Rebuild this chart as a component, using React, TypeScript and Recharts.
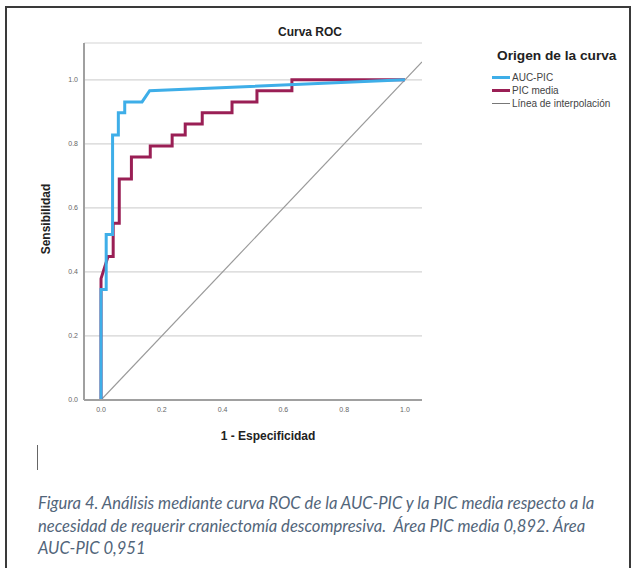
import React from "react";
import { LineChart, Line, XAxis, YAxis, CartesianGrid } from "recharts";

const ticks = [0, 0.2, 0.4, 0.6, 0.8, 1.0];

const aucPicFpr = [0, 0, 0.017, 0.017, 0.038, 0.038, 0.057, 0.057, 0.078, 0.078, 0.135, 0.16, 1.0];
const aucPicTpr = [0, 0.345, 0.345, 0.517, 0.517, 0.828, 0.828, 0.897, 0.897, 0.931, 0.931, 0.966, 1.0];

const picMediaFpr = [0, 0, 0.023, 0.04, 0.04, 0.06, 0.06, 0.1, 0.1, 0.162, 0.162, 0.234, 0.234, 0.277, 0.277, 0.333, 0.333, 0.431, 0.431, 0.513, 0.513, 0.628, 0.628, 1.0];
const picMediaTpr = [0, 0.379, 0.448, 0.448, 0.552, 0.552, 0.69, 0.69, 0.759, 0.759, 0.793, 0.793, 0.828, 0.828, 0.862, 0.862, 0.897, 0.897, 0.931, 0.931, 0.966, 0.966, 1.0, 1.0];

const refLine = [0, 1.056];

const legendItems = ["AUC-PIC", "PIC media", "Línea de interpolación"];
const captionLines = [
  "Figura 4. Análisis mediante curva ROC de la AUC-PIC y la PIC media respecto a la",
  "necesidad de requerir craniectomía descompresiva.  Área PIC media 0,892. Área",
  "AUC-PIC 0,951",
];

const toPts = (xs: number[], ys: number[]) => xs.map((x, i) => ({ x, y: ys[i] }));

const blueData = toPts(aucPicFpr, aucPicTpr);
const redData = toPts(picMediaFpr, picMediaTpr);
const diagData = refLine.map((v) => ({ x: v, y: v }));

const BLUE = "#3eaee8";
const RED = "#9a1f55";
const GRAY = "#9a9a9a";
const font = "'Liberation Sans', Arial, sans-serif";

export default function App() {
  const legendColors = [BLUE, RED, "#777"];
  return (
    <div style={{ position: "absolute", left: 0, top: 0, width: 636, height: 568, overflow: "hidden", background: "#fff" }}>
      <div style={{ position: "absolute", left: 5, top: 6, width: 622, height: 600, border: "2px solid #3a3a3a" }} />
      <div style={{ position: "absolute", left: 0, top: 0 }}>
        <LineChart width={636} height={568} margin={{ top: 43, right: 214, bottom: 138, left: 44 }}>
          <CartesianGrid vertical={false} stroke="#d4d4d4" strokeWidth={1.2} />
          <XAxis
            type="number"
            dataKey="x"
            domain={[-0.056, 1.056]}
            ticks={ticks}
            allowDataOverflow
            tickFormatter={(v: number) => v.toFixed(1)}
            tickLine={false}
            tickSize={0}
            tickMargin={7}
            height={30}
            axisLine={{ stroke: "#a0a0a0", strokeWidth: 2 }}
            tick={{ fontSize: 7, fill: "#666", fontFamily: font }}
          />
          <YAxis
            type="number"
            dataKey="y"
            domain={[0, 1.115]}
            ticks={ticks}
            allowDataOverflow
            tickFormatter={(v: number) => v.toFixed(1)}
            tickLine={false}
            tickSize={0}
            tickMargin={6}
            width={40}
            axisLine={{ stroke: "#a0a0a0", strokeWidth: 2 }}
            tick={{ fontSize: 7, fill: "#666", fontFamily: font }}
          />
          <Line data={diagData} dataKey="y" type="linear" stroke={GRAY} strokeWidth={1.2} dot={false} isAnimationActive={false} />
          <Line data={redData} dataKey="y" type="linear" stroke={RED} strokeWidth={3} dot={false} isAnimationActive={false} />
          <Line data={blueData} dataKey="y" type="linear" stroke={BLUE} strokeWidth={3} dot={false} isAnimationActive={false} />
        </LineChart>
      </div>
      <div style={{ position: "absolute", left: 210, width: 200, top: 25, textAlign: "center", fontFamily: font, fontWeight: "bold", fontSize: 12, color: "#222" }}>
        Curva ROC
      </div>
      <div style={{ position: "absolute", left: 168, width: 200, top: 429, textAlign: "center", fontFamily: font, fontWeight: "bold", fontSize: 12, color: "#222" }}>
        1 - Especificidad
      </div>
      <div style={{ position: "absolute", left: 46, top: 220, width: 0, height: 0 }}>
        <div style={{ position: "absolute", left: -60, top: -8, width: 120, textAlign: "center", transform: "rotate(-90deg)", fontFamily: font, fontWeight: "bold", fontSize: 12, color: "#222" }}>
          Sensibilidad
        </div>
      </div>
      <div style={{ position: "absolute", left: 497, top: 48, fontFamily: font, fontWeight: "bold", fontSize: 13.7, color: "#222", whiteSpace: "nowrap" }}>
        Origen de la curva
      </div>
      {legendItems.map((t, i) => (
        <div key={t} style={{ position: "absolute", left: 492, top: 71 + i * 13, height: 12, display: "flex", alignItems: "center", whiteSpace: "nowrap" }}>
          <div style={{ width: 18, height: i === 2 ? 1 : 3, background: legendColors[i], marginRight: 2 }} />
          <span style={{ fontFamily: font, fontSize: 10, color: "#444" }}>{t}</span>
        </div>
      ))}
      <div style={{ position: "absolute", left: 37, top: 445, width: 1, height: 25, background: "#666" }} />
      {captionLines.map((t, i) => (
        <div key={i} style={{ position: "absolute", left: 38, top: 493 + i * 22.5, fontFamily: "Lato, sans-serif", fontStyle: "italic", fontSize: 16.6, color: "#52657a", whiteSpace: "pre" }}>
          {t}
        </div>
      ))}
    </div>
  );
}
